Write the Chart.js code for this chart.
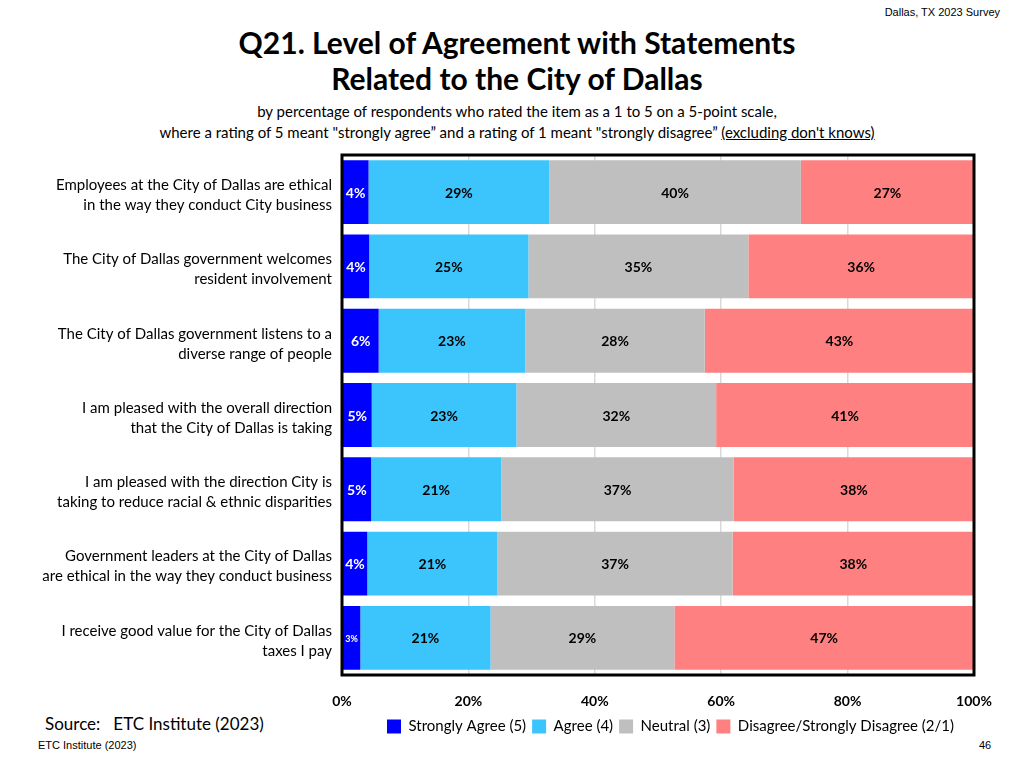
<!DOCTYPE html>
<html>
<head>
<meta charset="utf-8">
<script src="https://cdn.jsdelivr.net/npm/chart.js@4.4.1/dist/chart.umd.min.js"></script>
<style>
  html, body { margin:0; padding:0; background:#fff; width:1021px; height:768px; overflow:hidden; font-family: Lato, "Open Sans", sans-serif; }
  .abs { position:absolute; }
  #corner { right:21px; top:6px; font-family:"Liberation Sans", Arial, sans-serif; font-size:11px; color:#000; }
  #title { left:0; width:1034px; top:24px; text-align:center; font-weight:bold; font-size:30px; line-height:36px; color:#000; }
  #sub { left:0; width:1034px; top:101px; text-align:center; font-size:15px; line-height:21px; color:#000; }
  #sub u { text-decoration: underline; }
  #source { left:45px; top:713px; font-size:17px; color:#000; }
  #foot { left:38px; top:739px; font-family:"Liberation Sans", Arial, sans-serif; font-size:11px; color:#000; }
  #page { left:979px; top:739px; font-family:"Liberation Sans", Arial, sans-serif; font-size:11px; color:#000; }
  #wrap { left:0; top:146px; width:1000px; height:598px; }
</style>
</head>
<body>
<div id="corner" class="abs">Dallas, TX 2023 Survey</div>
<div id="title" class="abs">Q21. Level of Agreement with Statements<br>Related to the City of Dallas</div>
<div id="sub" class="abs">by percentage of respondents who rated the item as a 1 to 5 on a 5-point scale,<br>where a rating of 5 meant "strongly agree” and a rating of 1 meant "strongly disagree” <u>(excluding don't knows)</u></div>
<div id="source" class="abs">Source:&nbsp;&nbsp; ETC Institute (2023)</div>
<div id="foot" class="abs">ETC Institute (2023)</div>
<div id="page" class="abs">46</div>
<div id="wrap" class="abs"><canvas id="c"></canvas></div>
<script>
const categories = [
  ["Employees at the City of Dallas are ethical", "in the way they conduct City business"],
  ["The City of Dallas government welcomes", "resident involvement"],
  ["The City of Dallas government listens to a", "diverse range of people"],
  ["I am pleased with the overall direction", "that the City of Dallas is taking"],
  ["I am pleased with the direction City is", "taking to reduce racial & ethnic disparities"],
  ["Government leaders at the City of Dallas", "are ethical in the way they conduct business"],
  ["I receive good value for the City of Dallas", "taxes I pay"]
];
const seriesNames = ["Strongly Agree (5)", "Agree (4)", "Neutral (3)", "Disagree/Strongly Disagree (2/1)"];
const stronglyAgree = [4.2, 4.3, 5.8, 4.7, 4.6, 4.0, 2.9];
const agree         = [28.6, 25.2, 23.2, 22.9, 20.6, 20.6, 20.6];
const neutral       = [39.8, 34.8, 28.4, 31.6, 36.8, 37.2, 29.1];
const disagree      = [27.4, 35.7, 42.6, 40.8, 38.0, 38.2, 47.4];
const xTicks = [0, 20, 40, 60, 80, 100];

const colors = ["#0000FF", "#3CC4FC", "#BFBFBF", "#FF8080"];
const labelColors = ["#FFFFFF", "#000000", "#000000", "#000000"];

const segLabels = {
  id: 'segLabels',
  afterDatasetsDraw(chart) {
    const ctx = chart.ctx;
    ctx.save();
    ctx.textAlign = 'center';
    ctx.textBaseline = 'middle';
    chart.data.datasets.forEach((ds, di) => {
      const meta = chart.getDatasetMeta(di);
      meta.data.forEach((bar, i) => {
        const v = ds.data[i];
        const w = Math.abs(bar.x - bar.base);
        const size = w < 22 ? 9 : 14;
        ctx.font = 'bold ' + size + 'px Lato, "Open Sans", sans-serif';
        ctx.fillStyle = labelColors[di];
        ctx.fillText(Math.round(v) + '%', (bar.x + bar.base) / 2, bar.y + 1);
      });
    });
    ctx.restore();
  }
};

const frame = {
  id: 'frame',
  afterDatasetsDraw(chart) {
    const a = chart.chartArea;
    const ctx = chart.ctx;
    ctx.save();
    ctx.strokeStyle = '#000';
    ctx.lineWidth = 3;
    ctx.strokeRect(a.left, a.top, a.right - a.left, a.bottom - a.top);
    ctx.restore();
  }
};

const legendShift = {
  id: 'legendShift',
  afterLayout(chart) {
    if (chart.legend) { chart.legend.right -= 14; }
  }
};

new Chart(document.getElementById('c'), {
  type: 'bar',
  data: {
    labels: categories,
    datasets: [stronglyAgree, agree, neutral, disagree].map((d, i) => ({
      label: seriesNames[i],
      data: d,
      backgroundColor: colors[i],
      borderWidth: 0,
      barPercentage: 0.86,
      categoryPercentage: 1.0
    }))
  },
  options: {
    indexAxis: 'y',
    responsive: true,
    maintainAspectRatio: false,
    animation: false,
    layout: { padding: { left: 0, right: 26, top: 9, bottom: 0 } },
    scales: {
      x: {
        stacked: true,
        min: 0, max: 100,
        afterBuildTicks(axis) { axis.ticks = xTicks.map(v => ({ value: v })); },
        afterFit(axis) { axis.paddingLeft = 0; axis.paddingRight = 0; axis.height = 38; },
        ticks: {
          padding: 18,
          color: '#000',
          font: { family: 'Lato, "Open Sans", sans-serif', size: 14, weight: 'bold' },
          callback: v => v + '%'
        },
        grid: { color: '#D9D9D9', lineWidth: 1.5, drawTicks: false },
        border: { display: false }
      },
      y: {
        stacked: true,
        afterFit(axis) { axis.width = 342; axis.paddingTop = 0; axis.paddingBottom = 0; },
        ticks: {
          padding: 10,
          labelOffset: 3,
          color: '#000',
          font: { family: 'Lato, "Open Sans", sans-serif', size: 15, lineHeight: 1.33 }
        },
        grid: { display: false, drawTicks: false },
        border: { display: false }
      }
    },
    plugins: {
      legend: {
        position: 'bottom',
        align: 'end',
        labels: {
          boxWidth: 14, boxHeight: 14, padding: 6,
          color: '#000',
          font: { family: 'Lato, "Open Sans", sans-serif', size: 15 }
        }
      },
      tooltip: { enabled: false }
    }
  },
  plugins: [segLabels, frame, legendShift]
});
</script>
</body>
</html>
